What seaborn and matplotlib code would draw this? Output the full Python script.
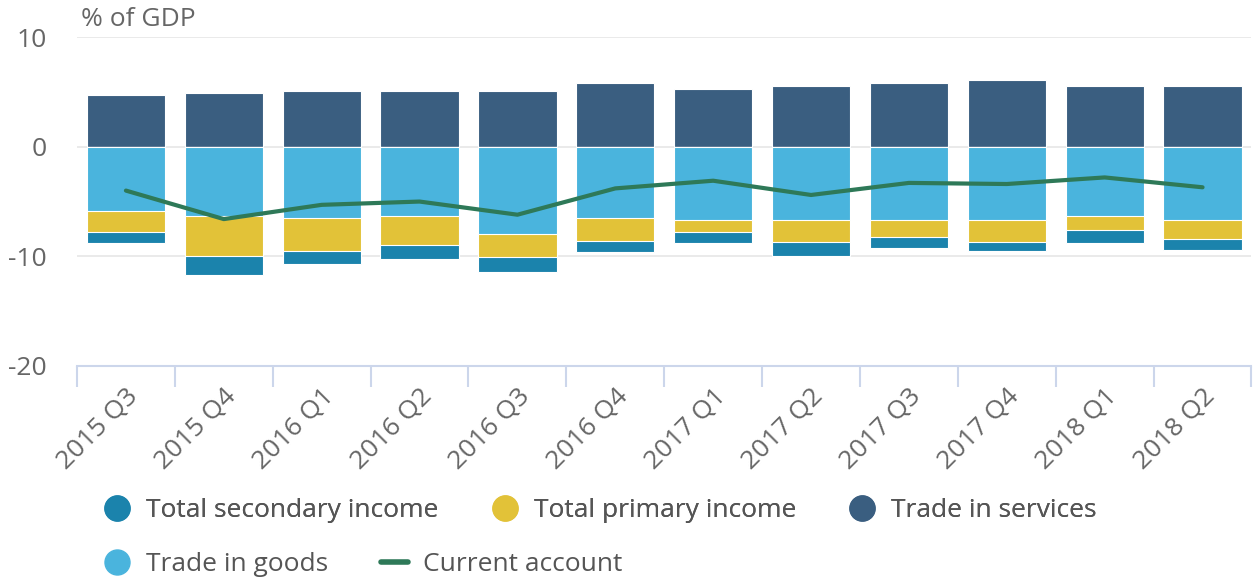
import numpy as np
import pandas as pd
import matplotlib
matplotlib.use("Agg")
import matplotlib.pyplot as plt
from matplotlib.lines import Line2D
import seaborn as sns

quarters = ["2015 Q3", "2015 Q4", "2016 Q1", "2016 Q2", "2016 Q3", "2016 Q4",
            "2017 Q1", "2017 Q2", "2017 Q3", "2017 Q4", "2018 Q1", "2018 Q2"]
trade_services = [4.7, 4.9, 5.1, 5.1, 5.1, 5.8, 5.3, 5.5, 5.8, 6.1, 5.5, 5.5]
trade_goods = [-5.9, -6.3, -6.5, -6.3, -8.0, -6.5, -6.7, -6.7, -6.7, -6.7, -6.3, -6.7]
primary_income = [-1.9, -3.7, -3.0, -2.7, -2.1, -2.1, -1.1, -2.0, -1.5, -2.0, -1.3, -1.7]
secondary_income = [-1.0, -1.7, -1.2, -1.2, -1.3, -1.0, -1.0, -1.3, -1.0, -0.8, -1.2, -1.0]
current_account = [-4.0, -6.6, -5.3, -5.0, -6.2, -3.8, -3.1, -4.4, -3.3, -3.4, -2.8, -3.7]

C_SEC = "#1b83ac"
C_PRI = "#e2c238"
C_SRV = "#3a5e80"
C_GDS = "#4ab4dd"
C_CA = "#2e7958"
TXT = "#666666"
FS = 19

sns.set_theme(style="white")
plt.rcParams["font.family"] = ["Open Sans", "DejaVu Sans"]

df = pd.DataFrame({
    "quarter": quarters,
    "services": trade_services,
    "goods": trade_goods,
    "primary": primary_income,
    "secondary": secondary_income,
    "ca": current_account,
})
df["goods_primary"] = df["goods"] + df["primary"]
df["goods_primary_secondary"] = df["goods_primary"] + df["secondary"]

fig = plt.figure(figsize=(12.54, 5.8), dpi=100)
ax = fig.add_axes([0.0614, 0.369, 0.9366, 0.567])

bar_kw = dict(width=0.8, saturation=1, edgecolor="white", linewidth=0.8, ax=ax, order=quarters)
sns.barplot(data=df, x="quarter", y="services", color=C_SRV, **bar_kw)
sns.barplot(data=df, x="quarter", y="goods_primary_secondary", color=C_SEC, **bar_kw)
sns.barplot(data=df, x="quarter", y="goods_primary", color=C_PRI, **bar_kw)
sns.barplot(data=df, x="quarter", y="goods", color=C_GDS, **bar_kw)

sns.lineplot(x=np.arange(len(quarters)), y=df["ca"].values, color=C_CA, linewidth=3.0, ax=ax)

ax.set_xlim(-0.5, len(quarters) - 0.5)
ax.set_ylim(-20, 10)
ax.set_yticks([-20, -10, 0, 10])
ax.set_yticklabels(["-20", "-10", "0", "10"])
ax.set_xlabel("")
ax.set_ylabel("")

for y in [-10, 0, 10]:
    ax.axhline(y, color="#e6e6e6", linewidth=1.2, zorder=0)

for s in ["top", "right", "left"]:
    ax.spines[s].set_visible(False)
ax.spines["bottom"].set_color("#ccd6eb")
ax.spines["bottom"].set_linewidth(1.5)
ax.set_axisbelow(True)

ax.set_xticks(np.arange(len(quarters)))
ax.set_xticklabels(quarters, rotation=45, ha="right", rotation_mode="anchor")
ax.set_xticks(np.arange(len(quarters) + 1) - 0.5, minor=True)
ax.tick_params(axis="x", which="major", length=0, pad=13, labelsize=FS, colors=TXT)
ax.tick_params(axis="x", which="minor", length=15, width=1.5, color="#ccd6eb", direction="out", bottom=True)
ax.tick_params(axis="y", length=0, pad=22, labelsize=FS, colors=TXT)
for lbl in ax.get_xticklabels():
    lbl.set_color(TXT)

ax.text(0.003, 1.015, "% of GDP", transform=ax.transAxes, fontsize=FS, color=TXT,
        ha="left", va="bottom")

def circ(c):
    return Line2D([0], [0], marker="o", linestyle="none", markersize=18,
                  markerfacecolor=c, markeredgecolor=c)

h1 = [circ(C_SEC), circ(C_PRI), circ(C_SRV)]
l1 = ["Total secondary income", "Total primary income", "Trade in services"]
leg1 = fig.legend(h1, l1, loc="center left", bbox_to_anchor=(0.064, 0.12), ncol=3,
                  frameon=False, fontsize=FS, handlelength=1.0, handletextpad=0.6,
                  columnspacing=2.0, labelcolor="#555555")
h2 = [circ(C_GDS), Line2D([0], [0], color=C_CA, linewidth=4)]
l2 = ["Trade in goods", "Current account"]
leg2 = fig.legend(h2, l2, loc="center left", bbox_to_anchor=(0.064, 0.027), ncol=2,
                  frameon=False, fontsize=FS, handlelength=1.0, handletextpad=0.6,
                  columnspacing=2.0, labelcolor="#555555")
fig.add_artist(leg1)

fig.savefig("out.png", dpi=100)
